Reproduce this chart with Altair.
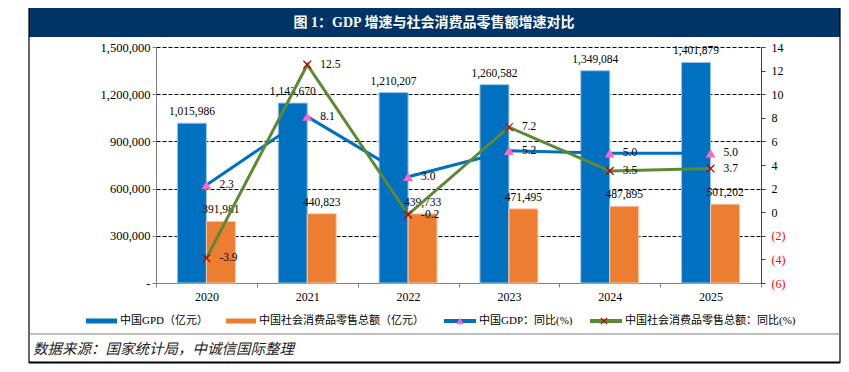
import altair as alt
import pandas as pd

# ---------------- data ----------------
years = ["2020", "2021", "2022", "2023", "2024", "2025"]
gdp = [1015986, 1143670, 1210207, 1260582, 1349084, 1401879]
retail = [391981, 440823, 439733, 471495, 487895, 501202]
gdp_yoy = [2.3, 8.1, 3.0, 5.2, 5.0, 5.0]
retail_yoy = [-3.9, 12.5, -0.2, 7.2, 3.5, 3.7]

s_gdp = "中国GPD（亿元）"
s_ret = "中国社会消费品零售总额（亿元）"
s_gdp_yoy = "中国GDP：同比(%)"
s_ret_yoy = "中国社会消费品零售总额：同比(%)"
title_text = "图 1：GDP 增速与社会消费品零售额增速对比"
source_text = "数据来源：国家统计局，中诚信国际整理"

left_ticks = [0, 300000, 600000, 900000, 1200000, 1500000]
right_ticks = [-6, -4, -2, 0, 2, 4, 6, 8, 10, 12, 14]

# ---------------- tables ----------------
bars_df = pd.DataFrame({
    "year": years * 2,
    "series": [s_gdp] * 6 + [s_ret] * 6,
    "value": gdp + retail,
})
gdp_df = pd.DataFrame({"year": years, "v": gdp_yoy})
gdp_df["lbl"] = [f"{v:.1f}" for v in gdp_yoy]
ret_df = pd.DataFrame({"year": years, "v": retail_yoy})
ret_df["lbl"] = [f"{v:.1f}" for v in retail_yoy]
one = pd.DataFrame({"a": [0]})

FONT = "'Liberation Serif', 'Noto Sans CJK SC'"
BLUE = "#0070C0"
ORANGE = "#ED7D31"
GREEN = "#5B8A32"
PINK = "#FF66CC"
RED = "#C00000"
NAVY = "#003366"

x_enc = alt.X(
    "year:N", sort=years,
    scale=alt.Scale(paddingInner=0, paddingOuter=0),
    axis=alt.Axis(title=None, labelAngle=0, tickBand="extent", domainColor="#808080",
                  tickColor="#808080", tickSize=4, labelPadding=4, labelFont=FONT,
                  labelFontSize=12, labelColor="#000"),
)

y_left_scale = alt.Scale(domain=[0, 1500000], nice=False, zero=True)
y_right_scale = alt.Scale(domain=[-6, 14], nice=False, zero=False)

# ---------------- bars ----------------
bars = alt.Chart(bars_df).mark_bar(strokeWidth=1).encode(
    x=x_enc,
    xOffset=alt.XOffset("series:N", sort=[s_gdp, s_ret],
                        scale=alt.Scale(paddingInner=0, paddingOuter=0.74)),
    y=alt.Y("value:Q", scale=y_left_scale,
            axis=alt.Axis(orient="left", title=None, values=left_ticks,
                          labelExpr="datum.value == 0 ? '-' : format(datum.value, ',')",
                          grid=True, gridDash=[4, 2], gridColor="#000000", gridWidth=1,
                          domainColor="#808080", tickColor="#808080", tickSize=4,
                          labelPadding=2, labelFont=FONT, labelFontSize=12.5,
                          labelColor="#000")),
    color=alt.Color("series:N", scale=alt.Scale(domain=[s_gdp, s_ret], range=[BLUE, ORANGE]),
                    legend=None),
    stroke=alt.Stroke("series:N", scale=alt.Scale(domain=[s_gdp, s_ret],
                                                  range=["#9DC3E6", "#F8CBAD"]),
                      legend=None),
)

bar_labels = alt.Chart(bars_df).mark_text(
    baseline="bottom", dy=-6, font=FONT, fontSize=11.5, color="#000"
).encode(
    x=x_enc,
    xOffset=alt.XOffset("series:N", sort=[s_gdp, s_ret],
                        scale=alt.Scale(paddingInner=0, paddingOuter=0.74)),
    y=alt.Y("value:Q", scale=y_left_scale, axis=None),
    text=alt.Text("value:Q", format=","),
)

# ---------------- lines ----------------
gdp_line = alt.Chart(gdp_df).mark_line(color=BLUE, strokeWidth=3).encode(
    x=x_enc,
    y=alt.Y("v:Q", scale=y_right_scale,
            axis=alt.Axis(orient="right", title=None, values=right_ticks,
                          labelExpr="datum.value < 0 ? '(' + abs(datum.value) + ')' : datum.value",
                          labelColor={"condition": {"test": "datum.value < 0", "value": "#FF0000"},
                                      "value": "#000000"},
                          grid=False, domainColor="#404040", tickColor="#404040", tickSize=4,
                          labelPadding=6, labelFont=FONT, labelFontSize=12)),
)

ret_line = alt.Chart(ret_df).mark_line(color=GREEN, strokeWidth=3).encode(
    x=x_enc, y=alt.Y("v:Q", scale=y_right_scale, axis=None),
)

gdp_pts = alt.Chart(gdp_df).mark_point(shape="triangle-up", filled=True, color=PINK,
                                       size=95, opacity=1).encode(
    x=x_enc, y=alt.Y("v:Q", scale=y_right_scale, axis=None),
)

ret_pts = alt.Chart(ret_df).mark_point(shape="M-1,-1L1,1M-1,1L1,-1", filled=False, color=RED,
                                       strokeWidth=1.3, size=60, opacity=1).encode(
    x=x_enc, y=alt.Y("v:Q", scale=y_right_scale, axis=None),
)

gdp_lbl = alt.Chart(gdp_df).mark_text(align="left", baseline="middle", dx=13, font=FONT,
                                      fontSize=11.5, color="#000").encode(
    x=x_enc, y=alt.Y("v:Q", scale=y_right_scale, axis=None),
    text=alt.Text("lbl:N"),
)

ret_lbl = alt.Chart(ret_df).mark_text(align="left", baseline="middle", dx=13, font=FONT,
                                      fontSize=11.5, color="#000").encode(
    x=x_enc, y=alt.Y("v:Q", scale=y_right_scale, axis=None),
    text=alt.Text("lbl:N"),
)

# ---------------- frame / decorations (pixel positions relative to plot area) ----------------
banner = alt.Chart(one).mark_rect(color=NAVY).encode(
    x=alt.value(-127), x2=alt.value(684), y=alt.value(-39), y2=alt.value(-10))
title = alt.Chart(one).mark_text(color="white", font=FONT, fontSize=14, fontWeight="bold",
                                 align="center", baseline="middle").encode(
    x=alt.value(278), y=alt.value(-24), text=alt.value(title_text))

border_l = alt.Chart(one).mark_rule(color="#000", strokeWidth=1.2).encode(
    x=alt.value(-127), y=alt.value(-39), y2=alt.value(316))
border_r = alt.Chart(one).mark_rule(color="#000", strokeWidth=1.2).encode(
    x=alt.value(684), y=alt.value(-39), y2=alt.value(316))
border_b = alt.Chart(one).mark_rule(color="#000", strokeWidth=2).encode(
    x=alt.value(-127), x2=alt.value(684), y=alt.value(315.5))
sep = alt.Chart(one).mark_rule(color="#808080", strokeWidth=1).encode(
    x=alt.value(-127), x2=alt.value(684), y=alt.value(287))
src = alt.Chart(one).mark_text(align="left", baseline="middle", font=FONT, fontSize=14.5,
                               fontStyle="italic", color="#222").encode(
    x=alt.value(-123), y=alt.value(303), text=alt.value(source_text))

LY = 274
leg = [
    alt.Chart(one).mark_rect(color=BLUE).encode(
        x=alt.value(-70), x2=alt.value(-39), y=alt.value(LY - 2.5), y2=alt.value(LY + 2.5)),
    alt.Chart(one).mark_rect(color=ORANGE).encode(
        x=alt.value(70), x2=alt.value(100), y=alt.value(LY - 2.5), y2=alt.value(LY + 2.5)),
    alt.Chart(one).mark_rule(color=BLUE, strokeWidth=4).encode(
        x=alt.value(288), x2=alt.value(320), y=alt.value(LY)),
    alt.Chart(one).mark_point(shape="triangle-up", filled=True, color=PINK, size=55,
                              opacity=1).encode(x=alt.value(304), y=alt.value(LY)),
    alt.Chart(one).mark_rule(color=GREEN, strokeWidth=4).encode(
        x=alt.value(434), x2=alt.value(466), y=alt.value(LY)),
    alt.Chart(one).mark_point(shape="M-1,-1L1,1M-1,1L1,-1", filled=False, color=RED,
                              strokeWidth=1.2, size=40, opacity=1).encode(
        x=alt.value(448), y=alt.value(LY)),
]
for xx, t in [(-36, s_gdp), (103, s_ret), (323, s_gdp_yoy), (469, s_ret_yoy)]:
    leg.append(alt.Chart(one).mark_text(align="left", baseline="middle", font=FONT,
                                        fontSize=11, color="#000").encode(
        x=alt.value(xx), y=alt.value(LY), text=alt.value(t)))

chart = alt.layer(
    bars, gdp_line, bar_labels, ret_line, gdp_pts, ret_pts, gdp_lbl, ret_lbl,
    banner, title, border_l, border_r, border_b, sep, src, *leg,
).resolve_scale(y="independent").properties(
    width=605, height=236,
    autosize=alt.AutoSizeParams(type="none"),
    padding={"left": 148, "top": 39, "right": 80, "bottom": 81},
).configure_view(stroke=None)

chart.save("out.html", embed_options={"renderer": "svg", "actions": False})
